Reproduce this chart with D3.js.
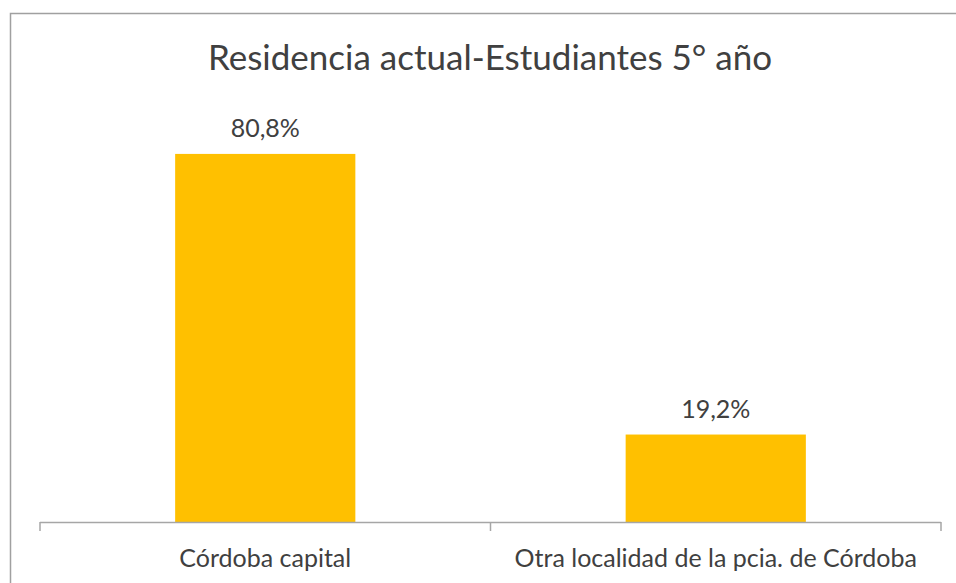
<!DOCTYPE html>
<html>
<head>
<meta charset="utf-8">
<script src="https://cdn.jsdelivr.net/npm/d3@7"></script>
<style>
  html, body { margin: 0; background: #fff; overflow: hidden; }
  svg { display: block; font-family: Lato, "Open Sans", sans-serif; }
</style>
</head>
<body>
<svg id="chart" width="956" height="583"></svg>
<script>
'use strict';
let title = "Residencia actual-Estudiantes 5° año";
let categories = ["Córdoba capital", "Otra localidad de la pcia. de Córdoba"];
let values = [80.8, 19.2];
let valueLabels = ["80,8%", "19,2%"];

let svg = d3.select("#chart"),
    margin = {top: 112, bottom: 61, left: 40, right: 15},
    width = +svg.attr("width"),
    height = +svg.attr("height");

// outer chart border: only top and left edges are inside the page
svg.append("path")
    .attr("d", "M10.5," + height + "V13.5H" + width)
    .attr("fill", "none")
    .attr("stroke", "#a0a0a0")
    .attr("stroke-width", 1.5);

let x = d3.scaleBand()
    .domain(categories)
    .range([margin.left, width - margin.right])
    .paddingInner(0.6)
    .paddingOuter(0.3);

let y = d3.scaleLinear()
    .domain([0, 90])
    .range([height - margin.bottom, margin.top]);

svg.append("text")
    .attr("x", 490)
    .attr("y", 70)
    .attr("text-anchor", "middle")
    .attr("fill", "#404040")
    .style("font-size", "35px")
    .text(title);

svg.selectAll("rect.bar")
    .data(values)
    .enter()
    .append("rect")
    .attr("class", "bar")
    .attr("x", (d, i) => x(categories[i]))
    .attr("y", d => y(d))
    .attr("width", x.bandwidth())
    .attr("height", d => y(0) - y(d))
    .attr("fill", "#ffc000");

svg.selectAll("text.val")
    .data(values)
    .enter()
    .append("text")
    .attr("class", "val")
    .attr("x", (d, i) => x(categories[i]) + x.bandwidth() / 2)
    .attr("y", d => y(d) - 17)
    .attr("text-anchor", "middle")
    .attr("fill", "#404040")
    .style("font-size", "25px")
    .text((d, i) => valueLabels[i]);

// x axis with ticks at the band edges
let axisY = y(0);
let xr = x.range();
let tickXs = [xr[0], (xr[0] + xr[1]) / 2, xr[1]];
svg.append("line")
    .attr("x1", xr[0]).attr("x2", xr[1])
    .attr("y1", axisY + 0.5).attr("y2", axisY + 0.5)
    .attr("stroke", "#a6a6a6")
    .attr("stroke-width", 1.5);
svg.selectAll("line.tick")
    .data(tickXs)
    .enter()
    .append("line")
    .attr("class", "tick")
    .attr("x1", d => d).attr("x2", d => d)
    .attr("y1", axisY).attr("y2", axisY + 9)
    .attr("stroke", "#a6a6a6")
    .attr("stroke-width", 1.5);

svg.selectAll("text.cat")
    .data(categories)
    .enter()
    .append("text")
    .attr("class", "cat")
    .attr("x", d => x(d) + x.bandwidth() / 2)
    .attr("y", axisY + 45)
    .attr("text-anchor", "middle")
    .attr("fill", "#404040")
    .style("font-size", "25px")
    .text(d => d);
</script>
</body>
</html>
